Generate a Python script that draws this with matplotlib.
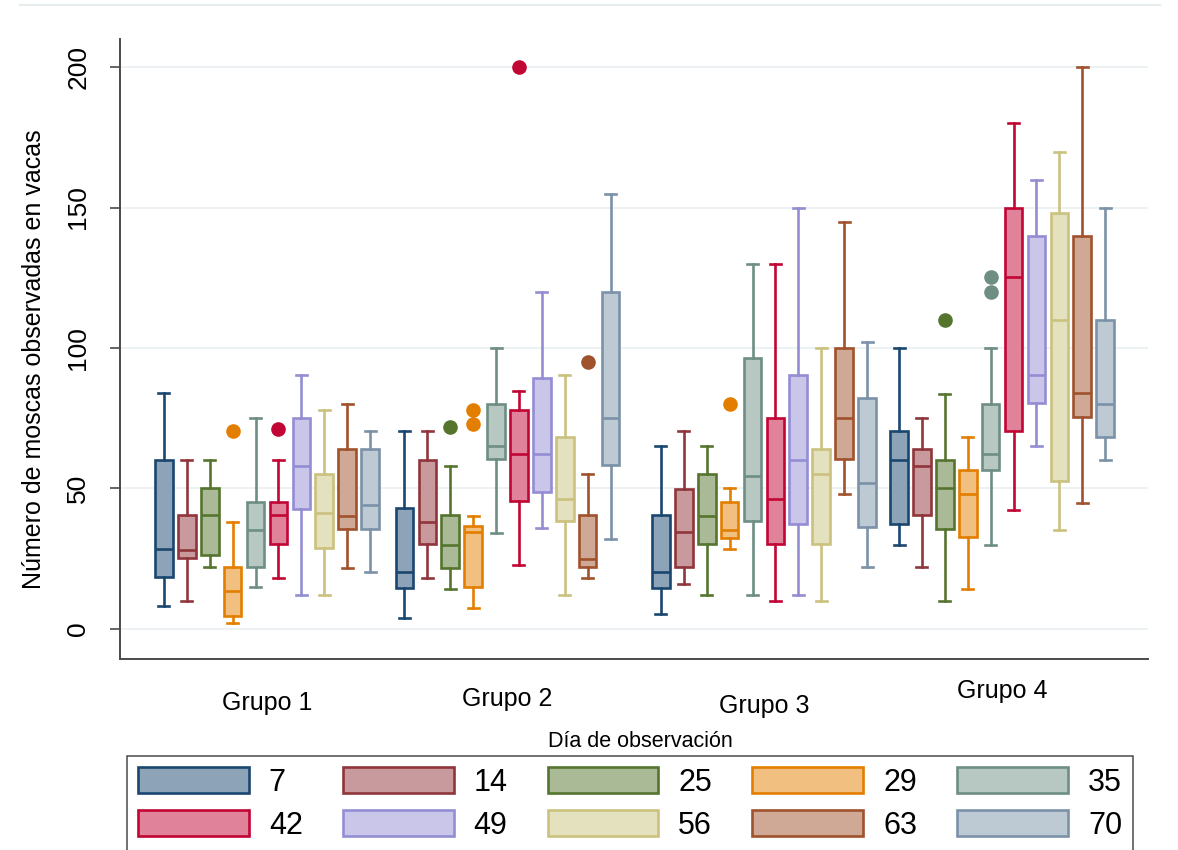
import matplotlib
matplotlib.use("Agg")
import matplotlib.pyplot as plt
from matplotlib.patches import Patch
from matplotlib.lines import Line2D
from matplotlib.colors import to_rgb

plt.rcParams["font.family"] = ["Liberation Sans", "DejaVu Sans"]

# días de observación (series) y grupos
days = ["7", "14", "25", "29", "35", "42", "49", "56", "63", "70"]
groups = ["Grupo 1", "Grupo 2", "Grupo 3", "Grupo 4"]

# estadísticos de cada caja: un renglón por grupo, una columna por día
whisker_low = [
    [8, 10, 22, 2, 15, 18.3, 12.2, 12.2, 21.8, 20.4],
    [3.9, 18, 14.3, 7.3, 34.2, 22.8, 35.9, 12.2, 18, 32.1],
    [5.2, 15.9, 12.2, 28.4, 12.2, 10.1, 12.2, 10.1, 48.2, 22],
    [30, 22, 10.1, 14.3, 30, 42.2, 65, 35.2, 45, 60.2],
]
quart1 = [
    [18.5, 25.3, 26.4, 4.5, 22.2, 30.2, 42.6, 28.8, 35.6, 35.6],
    [14.5, 30.2, 21.7, 15, 60.5, 45.4, 48.8, 38.3, 22.2, 58.4],
    [14.6, 22.2, 30.2, 32.3, 38.3, 30.2, 37.3, 30.2, 60.5, 36.3],
    [37.3, 40.5, 35.6, 32.6, 56.7, 70.6, 80.4, 52.5, 75.5, 68.5],
]
median = [
    [28.5, 28, 40.4, 13.6, 35.2, 40.4, 58.1, 41.4, 40.1, 44],
    [20.1, 38, 30, 34.5, 65, 62.3, 62.3, 46.1, 25, 75.2],
    [20.4, 34.5, 40.2, 35.2, 54.3, 46.1, 60.2, 55.3, 75, 52],
    [60.2, 58.1, 50, 48.2, 62.3, 125.2, 90.3, 110, 84, 79.9],
]
quart3 = [
    [60, 40.4, 50, 22, 45.3, 45.3, 75.2, 55.3, 64, 64],
    [42.9, 60.2, 40.4, 36.8, 80.2, 77.8, 89.3, 68.2, 40.4, 120],
    [40.4, 49.9, 55.3, 45.3, 96.3, 75.2, 90.3, 64, 99.9, 82.3],
    [70.3, 64, 60.2, 56.5, 80.2, 150, 140, 148, 140, 110],
]
whisker_high = [
    [84, 60, 60, 38, 75.2, 60, 90.3, 77.8, 80.2, 70.3],
    [70.3, 70.3, 58, 40.2, 100, 84.8, 119.8, 90.3, 55.1, 154.7],
    [65, 70.3, 65, 50, 130, 130, 150, 99.9, 145, 102],
    [99.9, 75.2, 83.7, 68.2, 99.9, 180, 159.8, 169.9, 200, 150],
]
outliers = [
    [[], [], [], [70.3], [], [71], [], [], [], []],
    [[], [], [72], [73.1, 77.9], [], [200], [], [], [95.2], []],
    [[], [], [], [80.2], [], [], [], [], [], []],
    [[], [], [110], [], [120.1, 125.2], [], [], [], [], []],
]

# colores tipo Stata s2color
edge_colors = ["#1a476f", "#90353b", "#55752f", "#e37e00", "#6e8e84",
               "#c10534", "#938dd2", "#cac27e", "#a0522d", "#7b92a8"]


def light(c):
    r, g, b = to_rgb(c)
    return (0.5 * r + 0.5, 0.5 * g + 0.5, 0.5 * b + 0.5)


group_start = [0, 10.5, 21.7, 32.1]
label_drop = [36.7, 33.8, 38.9, 28.1]  # puntos bajo el eje

fig = plt.figure(figsize=(11.78, 8.5), dpi=100)
ax = fig.add_axes([120 / 1178, 1 - 659 / 850, (1148 - 120) / 1178, (659 - 39) / 850])

for g in range(len(groups)):
    stats = []
    for d in range(len(days)):
        stats.append(dict(whislo=whisker_low[g][d], q1=quart1[g][d], med=median[g][d],
                          q3=quart3[g][d], whishi=whisker_high[g][d],
                          fliers=outliers[g][d]))
    pos = [group_start[g] + d for d in range(len(days))]
    art = ax.bxp(stats, positions=pos, widths=0.77, capwidths=0.48,
                 patch_artist=True, showfliers=True, manage_ticks=False)
    for d, c in enumerate(edge_colors):
        art["boxes"][d].set(facecolor=light(c), edgecolor=c, linewidth=1.9)
        art["medians"][d].set(color=c, linewidth=1.9)
        for w in art["whiskers"][2 * d:2 * d + 2]:
            w.set(color=c, linewidth=1.9)
        for cp in art["caps"][2 * d:2 * d + 2]:
            cp.set(color=c, linewidth=1.9)
        art["fliers"][d].set(marker="o", markerfacecolor=c, markeredgecolor=c,
                             markersize=9.5)

ax.set_xlim(-1.92, 42.97)
ax.set_ylim(-10.7, 210)
ax.set_yticks([0, 50, 100, 150, 200])
ax.set_xticks([])
ax.tick_params(axis="y", length=7.5, width=1.2, color="#4a4a4a", pad=14,
               labelsize=19, labelrotation=90)
for lab in ax.get_yticklabels():
    lab.set_va("center")
ax.grid(axis="y", color="#eaf0f2", linewidth=1.3)
ax.set_axisbelow(True)
for side in ["top", "right"]:
    ax.spines[side].set_visible(False)
for side in ["left", "bottom"]:
    ax.spines[side].set_color("#4a4a4a")
    ax.spines[side].set_linewidth(1.4)

for g, name in enumerate(groups):
    ax.annotate(name, xy=(group_start[g] + 4.5, 0), xycoords=("data", "axes fraction"),
                xytext=(0, -label_drop[g]), textcoords="offset points",
                ha="center", va="baseline", fontsize=18)

fig.text(640 / 1178, 1 - 747 / 850, "Día de observación", ha="center",
         va="baseline", fontsize=15.5)
fig.text(34 / 1178, 1 - 359 / 850, "Número de moscas observadas en vacas",
         rotation=90, ha="center", va="center", fontsize=18)

handles = [Patch(facecolor=light(c), edgecolor=c, linewidth=1.9) for c in edge_colors]
order = [0, 5, 1, 6, 2, 7, 3, 8, 4, 9]
leg = fig.legend([handles[i] for i in order], [days[i] for i in order],
                 loc="upper left", ncol=5, mode="expand",
                 bbox_to_anchor=(127 / 1178, 0, (1133 - 127) / 1178, 1 - 756 / 850),
                 borderaxespad=0, fontsize=22, handlelength=3.63, handleheight=0.95,
                 handletextpad=0.65, borderpad=0.36, labelspacing=0.4,
                 fancybox=False, framealpha=1)
leg.get_frame().set_edgecolor("#4a4a4a")
leg.get_frame().set_linewidth(1.1)

fig.add_artist(Line2D([20 / 1178, 1160 / 1178], [1 - 5 / 850, 1 - 5 / 850],
                      color="#e6ecee", linewidth=1.5))

fig.savefig("out.png", dpi=100)
